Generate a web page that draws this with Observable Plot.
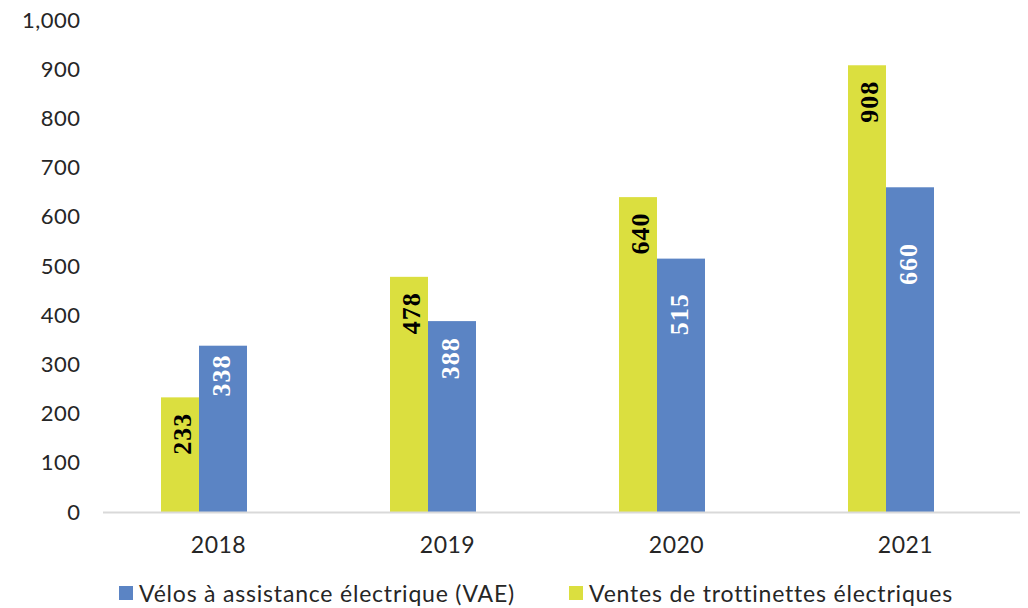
<!DOCTYPE html>
<html>
<head>
<meta charset="utf-8">
<script src="https://cdn.jsdelivr.net/npm/d3@7"></script>
<script src="https://cdn.jsdelivr.net/npm/@observablehq/plot@0.6"></script>
<style>
  html, body { margin: 0; padding: 0; background: #fff; }
  #wrap { position: relative; width: 1028px; height: 608px; font-family: Lato, sans-serif; }
  .legend { position: absolute; top: 570px; left: 0; width: 1028px; height: 38px; }
  .item { position: absolute; top: 9px; display: flex; align-items: center; font-family: Lato, sans-serif; font-size: 23px; letter-spacing: 0.8px; color: #262626; white-space: nowrap; }
  .sw { width: 14px; height: 14px; margin-right: 6px; }
</style>
</head>
<body>
<div id="wrap"></div>
<script>
const years = ["2018", "2019", "2020", "2021"];
const trottinettes = [233, 478, 640, 908];
const vae = [338, 388, 515, 660];
const seriesNames = ["Vélos à assistance électrique (VAE)", "Ventes de trottinettes électriques"];
const yTicks = [0, 100, 200, 300, 400, 500, 600, 700, 800, 900, 1000];
const colorVae = "#5b84c4";
const colorTrot = "#dbdf3f";

const trotRows = years.map((year, i) => ({year, value: trottinettes[i]}));
const vaeRows = years.map((year, i) => ({year, value: vae[i]}));

const chart = Plot.plot({
  width: 1028,
  height: 570,
  marginLeft: 103,
  marginRight: 8,
  marginTop: 20,
  marginBottom: 58,
  style: {fontFamily: "Lato, sans-serif", fontSize: "22px", color: "#262626", background: "#fff"},
  x: {type: "band", domain: years, paddingInner: 0.5027, paddingOuter: 0.25135, label: null},
  y: {domain: [0, 1000], label: null},
  marks: [
    Plot.axisY({ticks: yTicks, tickFormat: d3.format(","), tickSize: 0, tickPadding: 23, label: null}),
    Plot.axisX({tickSize: 0, tickPadding: 24, label: null, fontSize: 23}),
    Plot.barY(trotRows, {x: "year", y: "value", fill: colorTrot, insetLeft: 0, insetRight: 76}),
    Plot.barY(vaeRows, {x: "year", y: "value", fill: colorVae, insetLeft: 38, insetRight: 28}),
    Plot.ruleY([0], {stroke: "#d9d9d9", strokeWidth: 2}),
    Plot.text(trotRows, {
      x: "year", y: "value", text: d => String(d.value),
      rotate: -90, textAnchor: "end", lineAnchor: "middle",
      dx: -36, dy: 15, fill: "#000",
      fontFamily: "Liberation Serif", fontWeight: "bold", fontSize: 26
    }),
    Plot.text(vaeRows, {
      x: "year", y: d => 40 + 0.705 * d.value, text: d => String(d.value),
      rotate: -90, textAnchor: "middle", lineAnchor: "middle",
      dx: 3, fill: "#fff",
      fontFamily: "Liberation Serif", fontWeight: "bold", fontSize: 26
    })
  ]
});

chart.querySelectorAll("text").forEach(t => {
  const fam = (t.getAttribute("font-family") || "") + (t.parentNode ? (t.parentNode.getAttribute("font-family") || "") : "");
  if (fam.includes("Serif")) {
    t.setAttribute("letter-spacing", "1px");
  } else {
    t.setAttribute("letter-spacing", "0.5px");
  }
});

const wrap = document.getElementById("wrap");
wrap.appendChild(chart);

const legend = document.createElement("div");
legend.className = "legend";
const items = [
  {name: seriesNames[0], color: colorVae, left: 119},
  {name: seriesNames[1], color: colorTrot, left: 569}
];
for (const it of items) {
  const el = document.createElement("div");
  el.className = "item";
  el.style.left = it.left + "px";
  const sw = document.createElement("span");
  sw.className = "sw";
  sw.style.background = it.color;
  const tx = document.createElement("span");
  tx.textContent = it.name;
  el.appendChild(sw);
  el.appendChild(tx);
  legend.appendChild(el);
}
wrap.appendChild(legend);
</script>
</body>
</html>
